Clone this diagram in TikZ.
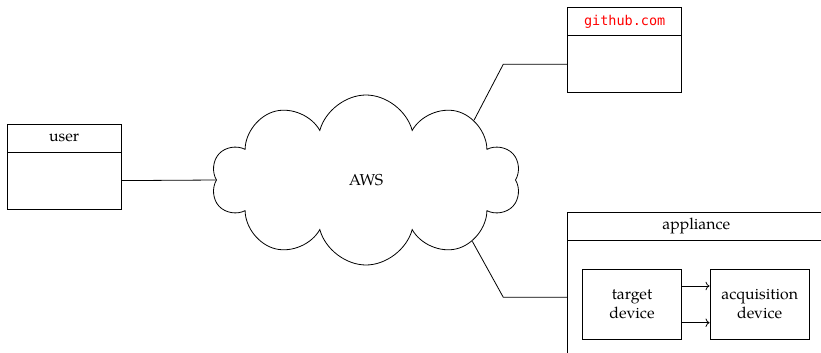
\documentclass[tikz,border=0pt]{standalone}
\usepackage{fontspec}
\setmainfont{TeX Gyre Pagella}
\setmonofont{DejaVu Sans Mono}
\usetikzlibrary{shapes.symbols,arrows.meta}
\begin{document}
\begin{tikzpicture}[x=1pt,y=-1pt, line width=0.8pt,
  every node/.style={font=\fontsize{15.8}{18.5}\selectfont},
  head/.style={draw, minimum height=28pt, inner sep=0pt},
  body/.style={draw, minimum height=57pt, inner sep=0pt},
  dev/.style={draw, minimum width=99.4pt, minimum height=70pt, align=center, inner sep=0pt},
  link/.style={draw},
  arr/.style={-{To[scale=1.2]}}]
\useasboundingbox (0,0) rectangle (821,353);
\clip (0,0) rectangle (821,353);
% user
\node[head, minimum width=113.7pt] (userhead) at (64.2,138.4) {user};
\node[body, minimum width=113.7pt] (userbody) at (64.2,180.6) {};
% github
\node[head, minimum width=114pt, text=red, font=\fontsize{13.5}{16}\selectfont\ttfamily] (ghhead) at (624.7,21.5) {github.com};
\node[body, minimum width=114pt] (ghbody) at (624.7,64.2) {};
% appliance
\node[head, minimum width=257.3pt] (aphead) at (696.3,226.3) {appliance};
\node[body, minimum height=114pt, minimum width=257.3pt] (apbody) at (696.3,297.3) {};
\node[dev] (tgt) at (632,304.3) {target\\device};
\node[dev] (acq) at (759.65,304.3) {acquisition\\device};
% cloud
\node[cloud, draw, cloud puffs=10, aspect=1.8, minimum width=309pt, minimum height=170pt, inner sep=0pt] (aws) at (366,180) {AWS};
% connectors
\coordinate (ghbend) at (503.3,64.2);
\coordinate (apbend) at (503.3,297.3);
\draw[link] (userbody.east) -- (aws.west);
\draw[link] (ghbody.west) -- (ghbend) -- (aws.29);
\draw[link] (apbody.west) -- (apbend) -- (aws.-30);
\draw[arr] ([yshift=18.3pt]tgt.east) -- ([yshift=18.3pt]acq.west);
\draw[arr] ([yshift=-18.4pt]tgt.east) -- ([yshift=-18.4pt]acq.west);
\end{tikzpicture}
\end{document}
